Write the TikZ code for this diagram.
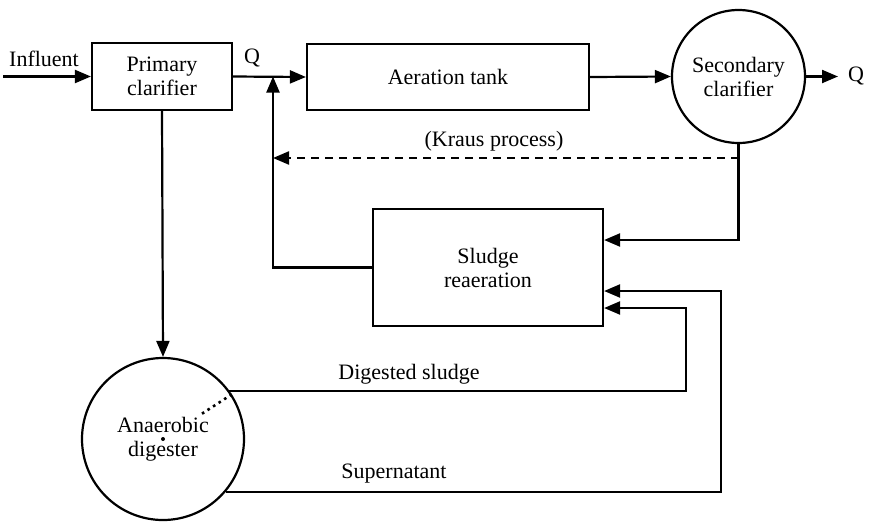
\documentclass[tikz,border=0pt]{standalone}
\usepackage{fontspec}
\setmainfont{Liberation Serif}
\usetikzlibrary{arrows.meta, positioning, shapes, calc}

\begin{document}
\begin{tikzpicture}[
    x=0.5pt, y=-0.5pt,
    font=\fontsize{11pt}{12pt}\selectfont,
    box/.style={rectangle, draw, line width=1.1pt, align=center, inner sep=0pt},
    tank/.style={circle, draw, line width=1.1pt, align=center, inner sep=0pt},
    arrow/.style={-{Triangle[length=8pt, width=6.5pt]}, line width=1.1pt},
    kraus/.style={arrow, dash pattern=on 4pt off 3pt}
  ]
    \useasboundingbox (0,0) rectangle (874,521);

    \node[box, minimum width=70pt, minimum height=33.5pt] (primary) at (162,76.5) {Primary\\clarifier};
    \node[box, minimum width=141pt, minimum height=33pt] (aeration) at (448,77) {Aeration tank};
    \node[tank, minimum size=66.5pt] (secondary) at (738.5,76.5) {Secondary\\clarifier};
    \node[box, minimum width=115pt, minimum height=58.5pt] (sludge) at (488,267.5) {Sludge\\reaeration};
    \node[tank, minimum size=81pt] (digester) at (163,439) {Anaerobic\\digester};

    \coordinate (in) at (3,76.5);
    \coordinate (out) at (838,76.5);
    \coordinate (join) at (273,76.5);
    \coordinate (ds turn) at (686,308);
    \coordinate (sn turn) at (721,291);

    \node (influent) at (44,59) {Influent};
    \node (q in) at (252,58) {Q};
    \node (q out) at (856,76) {Q};
    \node (kraus label) at (494,141) {(Kraus process)};
    \node (ds label) at (409,374) {Digested sludge};
    \node (sn label) at (394,474) {Supernatant};

    \draw[arrow] (in) -- (primary.west);
    \draw[arrow] (primary.east) -- (aeration.west);
    \draw[arrow] (aeration.east) -- (secondary.west);
    \draw[arrow] (secondary.east) -- (out);
    \draw[arrow] (primary.south) -- (digester.north);
    \draw[arrow] (secondary.south) |- (sludge.east |- 0,240);
    \draw[kraus] (secondary.south |- 0,158) -- (join |- 0,158);
    \draw[arrow] (sludge.west) -| (join);
    \draw[arrow] (digester.36) -| (ds turn) -- (sludge.east |- ds turn);
    \draw[arrow] (digester.-40) -| (sn turn) -- (sludge.east |- sn turn);

    \draw[line width=1.3pt, dotted] (digester.33) -- ($(digester.33)!0.45!(digester.center)$);
    \fill (digester.center) circle (1pt);
\end{tikzpicture}
\end{document}
